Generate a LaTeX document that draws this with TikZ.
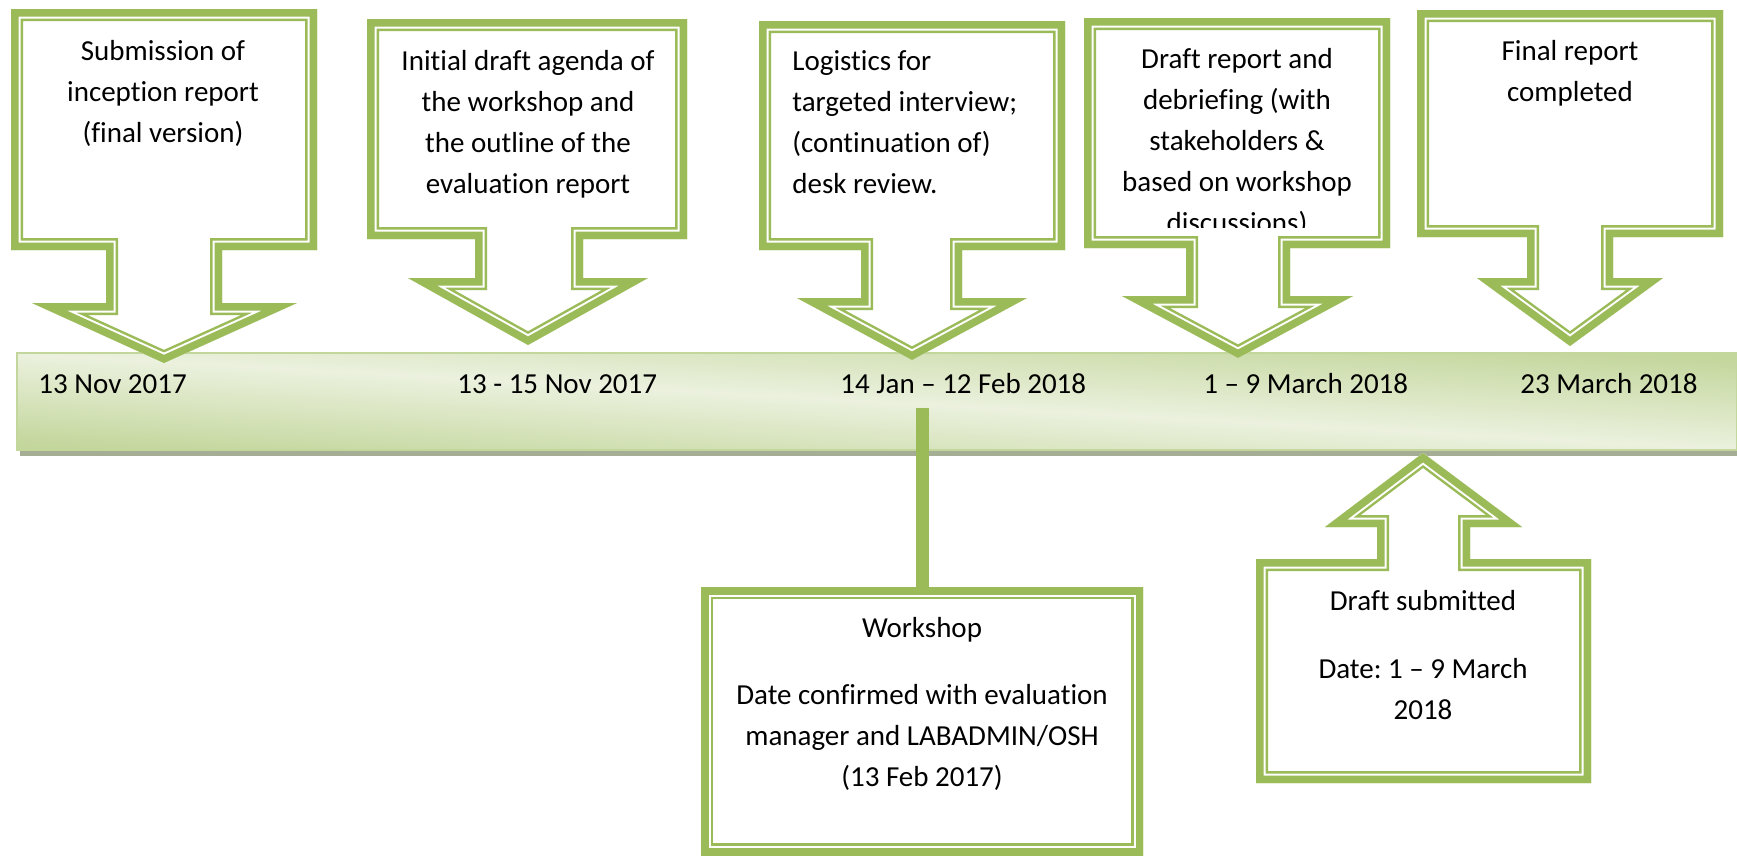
\documentclass[tikz,border=0pt]{standalone}
\usepackage{fontspec}
\setmainfont{Carlito}[Ligatures={TeX,NoCommon}]
\frenchspacing
\usetikzlibrary{shadows}
\definecolor{framegreen}{HTML}{9BBB59}
\definecolor{barlight}{HTML}{EBF1DE}
\definecolor{bardark}{HTML}{C3D69B}
\definecolor{barshade}{HTML}{A5AE94}
\tikzset{
    calltext/.style={
        inner sep=0, anchor=north, align=center,
        font=\fontsize{14.5}{20.5}\selectfont
    },
    datetext/.style={
        inner sep=0, anchor=base west,
        font=\fontsize{14.5}{20.5}\selectfont
    },
    timeline/.style={
        minimum width=860pt, minimum height=48.5pt,
        inner sep=0, outer sep=0, draw=bardark, line width=0.6pt,
        top color=bardark, bottom color=bardark, middle color=barlight,
        shading angle=-3.2,
        drop shadow={shadow xshift=1.5pt, shadow yshift=-3pt,
            fill=barshade, opacity=1}
    },
    frame wide/.style={draw=framegreen, line width=12pt},
    frame gap/.style={draw=white, line width=9.5pt},
    frame core/.style={draw=framegreen, line width=7.5pt},
    link/.style={draw=framegreen, line width=6.5pt}
}
% thick-thin green frame, kept inside the shape
\newcommand{\doubleframe}[1]{%
    \fill[white] #1;
    \begin{scope}
        \clip #1;
        \draw[frame wide] #1;
        \draw[frame gap] #1;
        \draw[frame core] #1;
    \end{scope}}

\begin{document}
\begin{tikzpicture}[x=0.5pt, y=-0.5pt, line join=miter]
\useasboundingbox (0,0) rectangle (1737,857);

% Timeline bar
\node[timeline, anchor=north west] (bar) at (17,353) {};

% Callouts above the bar
\doubleframe{(11,9) -- (317,9) -- (317,250) -- (222,250) -- (222,303) -- (297,303) -- (164,363) -- (32,303) -- (106,303) -- (106,250) -- (11,250) -- cycle}
\doubleframe{(367,19) -- (687,19) -- (687,239) -- (583,239) -- (583,278) -- (648,278) -- (528,345) -- (408,278) -- (475,278) -- (475,239) -- (367,239) -- cycle}
\doubleframe{(759,21) -- (1065,21) -- (1065,250) -- (962,250) -- (962,298) -- (1027,298) -- (912,360) -- (797,298) -- (861,298) -- (861,250) -- (759,250) -- cycle}
\doubleframe{(1084,18) -- (1390,18) -- (1390,248) -- (1290,248) -- (1290,296) -- (1353,296) -- (1238,358) -- (1122,296) -- (1186,296) -- (1186,248) -- (1084,248) -- cycle}
\doubleframe{(1417,10) -- (1723,10) -- (1723,237) -- (1613,237) -- (1613,278) -- (1663,278) -- (1570,346) -- (1477,278) -- (1527,278) -- (1527,237) -- (1417,237) -- cycle}

% Workshop box hanging from the bar
\coordinate (wslink) at (922,408);
\coordinate (wstop) at (922,590);
\draw[link] (wslink) -- (wstop);
\doubleframe{(701,587) rectangle (1143,855)}

% Callout below the bar
\doubleframe{(1423,453) -- (1522,527) -- (1470,527) -- (1470,559) -- (1591,559) -- (1591,783) -- (1256,783) -- (1256,559) -- (1377,559) -- (1377,527) -- (1325,527) -- cycle}

% Texts
\node[calltext] (inception) at (163,40) {Submission of\\inception report\\(final version)};
\node[calltext] (agenda) at (528,50) {Initial draft agenda of\\the workshop and\\the outline of the\\evaluation report};
\node[calltext, anchor=north west, align=left] (logistics) at (792,50) {Logistics for\\targeted interview;\\(continuation of)\\desk review.};
\begin{scope}
    \clip (1096,30) rectangle (1378,227);
    \node[calltext] (debrief) at (1237,48) {Draft report and\\debriefing (with\\stakeholders \&\\based on workshop\\discussions)};
\end{scope}
\node[calltext] (final) at (1570,40) {Final report\\completed};
\node[calltext] (workshop) at (922,617) {Workshop\\[13pt]Date confirmed with evaluation\\manager and LABADMIN/OSH\\(13 Feb 2017)};
\node[calltext] (submitted) at (1423,590) {Draft submitted\\[13.5pt]Date: 1 – 9 March\\2018};

% Dates on the bar
\node[datetext] (d1) at (38,393) {13 Nov 2017};
\node[datetext] (d2) at (457,393) {13 - 15 Nov 2017};
\node[datetext] (d3) at (840,393) {14 Jan – 12 Feb 2018};
\node[datetext] (d4) at (1203,393) {1 – 9 March 2018};
\node[datetext] (d5) at (1520,393) {23 March 2018};

\end{tikzpicture}
\end{document}
